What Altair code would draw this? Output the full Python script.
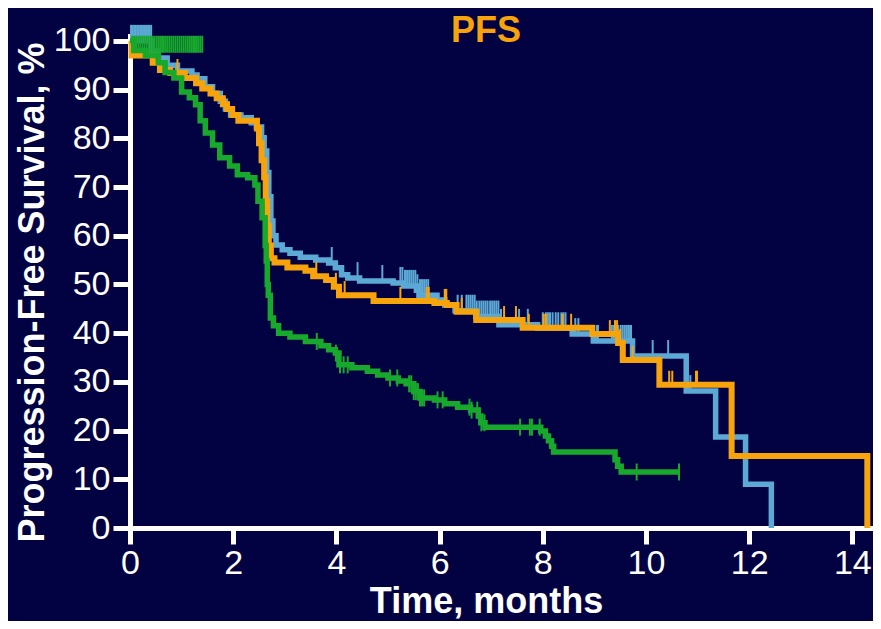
import bisect
import altair as alt
import pandas as pd

# ---------------- data ----------------
blue_t = [0, 0.42, 0.55, 0.72, 0.92, 1.2, 1.3, 1.45, 1.6, 1.75, 1.85, 1.95, 2.15, 2.35, 2.45, 2.55,
          2.6, 2.65, 2.69, 2.73, 2.77, 2.83, 2.95, 3.1, 3.3, 3.6, 3.85, 3.98, 4.1, 4.22, 4.45, 5.1,
          5.3, 5.55, 5.6, 5.95, 6.1, 6.3, 6.7, 7.15, 7.9, 8.57, 8.98, 9.74, 10.78, 11.35, 11.93, 12.43]
blue_s = [100, 98, 96.5, 95, 93.8, 93, 92.2, 90.6, 89.2, 87.6, 86, 84.8, 84.2, 83.2, 82.3, 80.1,
          77.4, 73, 68, 63, 60, 58.1, 57.1, 56.4, 55.6, 55, 54.4, 53.4, 52, 51.3, 50.7, 50.3,
          49.7, 48.8, 47.8, 46.8, 45.8, 44.6, 43.4, 41.7, 41.0, 39.8, 38.4, 35.3, 28.1, 18.7, 9.0, 0]

orange_t = [0, 0.03, 0.44, 0.58, 0.78, 1.06, 1.28, 1.4, 1.56, 1.68, 1.8, 1.88, 1.98, 2.1, 2.46, 2.5,
            2.55, 2.6, 2.63, 2.66, 2.69, 2.73, 2.8, 3.05, 3.4, 3.55, 3.8, 3.95, 4.05, 4.72, 5.9,
            6.14, 6.33, 6.71, 7.61, 8.96, 9.46, 9.55, 10.26, 11.66, 14.29]
orange_s = [100, 97, 95.5, 94, 93.4, 92.4, 91.3, 90.2, 89.2, 88.2, 87, 86, 84.8, 83.6, 82, 79,
            75.5, 72, 67, 62, 58, 55.4, 54.5, 53.5, 52.8, 51.7, 50.9, 49.5, 47.8, 46.6, 46.2,
            45.8, 44.4, 42.7, 41.1, 39.8, 38, 34.5, 29.4, 14.8, 0]

green_t = [0, 0.08, 0.3, 0.55, 0.68, 0.85, 1.0, 1.15, 1.27, 1.36, 1.46, 1.6, 1.74, 1.93, 2.08, 2.28,
           2.42, 2.48, 2.56, 2.62, 2.64, 2.66, 2.68, 2.72, 2.78, 2.88, 3.1, 3.4, 3.7, 3.85, 3.98,
           4.05, 4.3, 4.6, 4.8, 5.0, 5.2, 5.35, 5.5, 5.62, 5.9, 6.1, 6.35, 6.6, 6.75, 6.8, 6.88,
           7.96, 8.05, 8.11, 8.17, 8.21, 9.4, 9.45, 9.52, 10.64]
green_s = [100, 98, 97, 95.5, 93.5, 92.4, 89.5, 88.3, 86.9, 83.6, 81.1, 78.6, 76, 74.3, 72.5, 71.9,
           70.4, 67.1, 63.7, 58, 54.8, 50, 47.8, 43.1, 41.5, 40, 39.2, 38.3, 37.4, 36.6, 35.9,
           33.5, 32.9, 32.2, 31.4, 30.8, 30.2, 29.6, 28, 26.7, 26.3, 25.5, 24.8, 24.2, 23, 21.6, 20.7,
           19.9, 18.9, 17.9, 16.8, 15.6, 14, 12.7, 11.5, 11.5]

blue_censor = [0.02, 0.05, 0.08, 0.11, 0.14, 0.17, 0.2, 0.23, 0.26, 0.29, 0.32, 0.35, 0.38, 0.41,
               3.91, 4.41, 4.89, 5.24, 5.28, 5.33, 5.37, 5.41, 5.45, 5.49, 5.53, 5.57, 5.62, 5.66,
               5.70, 5.74, 5.78, 6.35, 6.43, 6.52, 6.56, 6.60, 6.64, 6.68, 6.72, 6.77, 6.81, 6.85,
               6.89, 6.93, 6.98, 7.02, 7.06, 7.10, 7.14, 7.19, 7.54, 7.71, 8.0, 8.06, 8.10, 8.14,
               8.19, 8.25, 8.30, 8.36, 8.40, 8.44, 8.63, 8.69, 9.05, 9.07, 9.34, 9.38, 9.42, 9.46,
               9.51, 9.55, 9.59, 9.63, 9.67, 9.71, 10.13, 10.43, 10.86]
orange_censor = [0.92, 3.61, 3.99, 4.16, 5.24, 5.75, 5.79, 6.10, 6.12, 6.13, 6.43, 7.25, 7.48, 7.73,
                 8.02, 8.06, 8.38, 8.55, 9.30, 9.40, 9.44, 9.50, 9.58, 9.74, 10.45, 10.51, 10.97, 10.99]
green_censor = [3.62, 3.99, 4.07, 4.14, 4.22, 5.04, 5.18, 5.41, 5.45, 5.50, 5.54, 5.58, 5.62, 5.66,
                5.70, 5.96, 6.06, 6.58, 6.62, 6.73, 6.77, 6.81, 6.87, 7.56, 7.75, 7.79, 7.94, 9.82, 10.64]
green_early_censor = [0.04, 0.08, 0.12, 0.16, 0.2, 0.24, 0.28, 0.32, 0.36, 0.4, 0.44, 0.48, 0.52,
                      0.56, 0.6, 0.64, 0.68, 0.72, 0.76, 0.8, 0.84, 0.88, 0.92, 0.96, 1.0, 1.04,
                      1.08, 1.12, 1.16, 1.2, 1.24, 1.28, 1.32, 1.36, 1.4]
green_early_level = 99.3

x_ticks = [0, 2, 4, 6, 8, 10, 12, 14]
y_ticks = [0, 10, 20, 30, 40, 50, 60, 70, 80, 90, 100]
panel_title = ["PFS"]

BG = "#020142"
BLUE = "#5ba9d4"
ORANGE = "#f7a30c"
GREEN = "#17a82c"
FONT = "Liberation Sans"


def level(ts, ss, c):
    i = bisect.bisect_right(ts, c) - 1
    return ss[max(i, 0)]


def curve_df(ts, ss):
    return pd.DataFrame({"t": ts, "s": ss})


def censor_df(ts, ss, cs):
    return pd.DataFrame({"t": cs, "s": [level(ts, ss, c) for c in cs]})


xs = alt.Scale(domain=[0, 14.4], nice=False, zero=False)
ys = alt.Scale(domain=[0, 101], nice=False)

X = alt.X("t:Q", scale=xs, axis=alt.Axis(
    values=x_ticks, title="Time, months", titleX=356, titleY=84, labelFlush=False,
    titleAlign="center", titleBaseline="alphabetic"))
Y = alt.Y("s:Q", scale=ys, axis=alt.Axis(
    values=y_ticks, title="Progression-Free Survival, %", titleX=-87, titleY=256,
    labelFlush=False, titleAngle=270, titleAlign="center", titleBaseline="alphabetic"))


def line(df, color, w=5.5):
    return alt.Chart(df).mark_line(interpolate="step-after", color=color, strokeWidth=w,
                                   strokeCap="butt", strokeJoin="miter").encode(x=X, y=Y)


def ticks(df, color, up=True, size=16):
    return alt.Chart(df).mark_tick(orient="vertical", color=color, size=size, thickness=2,
                                   opacity=1, yOffset=(-size / 2 if up else 0)).encode(x=X, y=Y)


title_layer = alt.Chart(pd.DataFrame({"label": panel_title})).mark_text(
    font=FONT, fontSize=36, fontWeight="bold", color=ORANGE, align="center",
    baseline="alphabetic").encode(text="label:N", x=alt.value(356), y=alt.value(6))

chart = alt.layer(
    line(curve_df(blue_t, blue_s), BLUE),
    ticks(censor_df(blue_t, blue_s, blue_censor), BLUE),
    line(curve_df(orange_t, orange_s), ORANGE, 6),
    ticks(censor_df(orange_t, orange_s, orange_censor), ORANGE, size=14),
    line(curve_df(green_t, green_s), GREEN),
    ticks(pd.DataFrame({"t": green_early_censor,
                        "s": [green_early_level] * len(green_early_censor)}), GREEN, up=False, size=17),
    ticks(censor_df(green_t, green_s, green_censor), GREEN, up=False, size=17),
    title_layer,
).properties(
    width=743, height=492,
    autosize=alt.AutoSizeParams(type="none"),
    padding={"left": 122, "top": 28, "right": 0, "bottom": 93},
    background=BG,
).configure_view(stroke=None).configure_axis(
    grid=False, domainColor="white", domainWidth=5, tickColor="white", tickWidth=5,
    labelColor="white", labelFont=FONT, labelFontSize=34,
    titleColor="white", titleFont=FONT, titleFontSize=36, titleFontWeight="bold",
).configure_axisX(tickSize=16, labelPadding=2, domainCap="square").configure_axisY(
    tickSize=17, labelPadding=3, domainCap="square")

chart.save("out.html", embed_options={"renderer": "svg", "actions": False})
